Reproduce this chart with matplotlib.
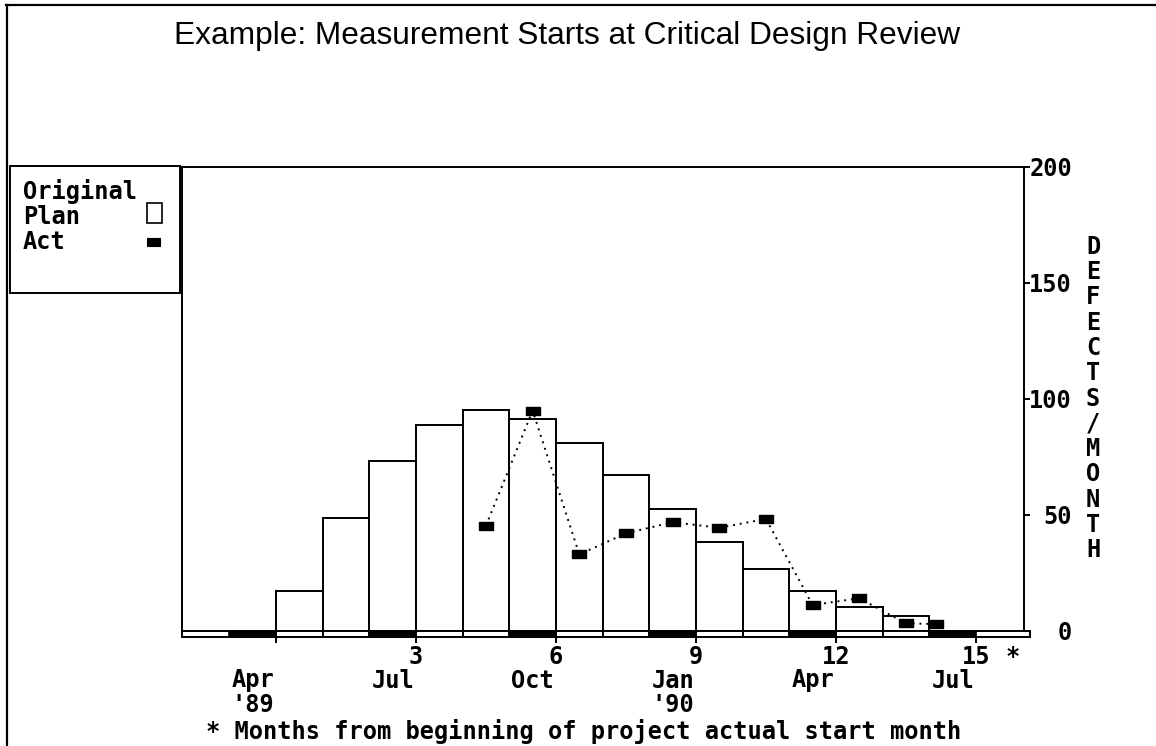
import matplotlib
matplotlib.use("Agg")
import matplotlib.pyplot as plt
from matplotlib.patches import Rectangle
from matplotlib.lines import Line2D
from matplotlib.transforms import blended_transform_factory

# ---------------- data ----------------
plan_months = [0, 1, 2, 3, 4, 5, 6, 7, 8, 9, 10, 11, 12, 13]
plan_values = [17.4, 48.6, 73.4, 88.8, 95.1, 91.2, 81.2, 67.1, 52.5, 38.2, 26.6, 17.4, 10.5, 6.6]
actual_months = [4.5, 5.5, 6.5, 7.5, 8.5, 9.5, 10.5, 11.5, 12.5, 13.5, 14.15]
actual_values = [45.4, 95.0, 33.0, 42.1, 46.9, 44.5, 48.3, 11.2, 14.1, 3.3, 3.0]
quarter_months = [-1, 2, 5, 8, 11, 14]
x_ticks = [0, 3, 6, 9, 12, 15]
x_tick_labels = ["", "3", "6", "9", "12", "15"]
month_label_pos = [-0.5, 2.5, 5.5, 8.5, 11.5, 14.5]
month_labels = ["Apr", "Jul", "Oct", "Jan", "Apr", "Jul"]
year_label_pos = [-0.5, 8.5]
year_labels = ["'89", "'90"]
y_ticks = [0, 50, 100, 150, 200]
y_tick_labels = ["0", "50", "100", "150", "200"]
title = "Example: Measurement Starts at Critical Design Review"
y_label = "DEFECTS/MONTH"
footnote = "* Months from beginning of project actual start month"
legend_lines = ["Original", "Plan", "Act"]

# ---------------- layout helpers ----------------
W, H = 1156, 746
def fx(px):
    return px / W
def fy(py):
    return 1 - py / H

MONO = "DejaVu Sans Mono"
MSIZE = 17.0
MW = "bold"
LW = 1.4

fig = plt.figure(figsize=(W / 100, H / 100), dpi=100)
fig.patch.set_facecolor("white")

ax = fig.add_axes([fx(182), fy(631), fx(1024) - fx(182), fy(167) - fy(631)])
ax.set_xlim(-2.014, 16.03)
ax.set_ylim(0, 200)
ax.set_facecolor("white")

for s in ["left", "top", "right"]:
    ax.spines[s].set_linewidth(LW)
ax.spines["bottom"].set_visible(False)
ax.spines["bottom"].set_position(("outward", 5.5 * 0.72))

# bars
ax.bar(plan_months, plan_values, width=1.0, align="edge", facecolor="white",
       edgecolor="black", linewidth=LW, zorder=2)

# baseline strip
px_per_unit = (631 - 167) / 200.0
strip_h = 6 / px_per_unit
x_left = -2.014
x_right = 16.16
ax.add_patch(Rectangle((x_left, -strip_h), x_right - x_left, strip_h, facecolor="white",
                       edgecolor="black", linewidth=LW, clip_on=False, zorder=3))
for q in quarter_months:
    ax.add_patch(Rectangle((q, -strip_h), 1, strip_h, facecolor="black", edgecolor="black",
                           linewidth=1.2, clip_on=False, zorder=4))
ax.vlines(plan_months + [plan_months[-1] + 1], -strip_h, 0, colors="black", linewidth=LW,
          clip_on=False, zorder=4)

# actual line
marker_path = [(-1, -0.6), (1, -0.6), (1, 0.6), (-1, 0.6), (-1, -0.6)]
ax.plot(actual_months, actual_values, color="black", linestyle=(0, (1, 2.5)), linewidth=LW,
        marker=marker_path, markersize=10, markerfacecolor="black", markeredgecolor="black",
        clip_on=False, zorder=5)

# x ticks
ax.set_xticks(x_ticks)
ax.set_xticklabels(x_tick_labels, fontfamily=MONO, fontsize=MSIZE, fontweight=MW)
ax.tick_params(axis="x", direction="out", length=6 * 0.72, width=LW, pad=2)

# y ticks on the right
ax.yaxis.tick_right()
ax.set_yticks(y_ticks)
ax.set_yticklabels(y_tick_labels, fontfamily=MONO, fontsize=MSIZE, fontweight=MW)
ax.tick_params(axis="y", direction="out", length=6 * 0.72, width=LW, pad=42 * 0.72)
for lbl in ax.get_yticklabels():
    lbl.set_horizontalalignment("right")

# month / year labels
bt = blended_transform_factory(ax.transData, fig.transFigure)
for m, t in zip(month_label_pos, month_labels):
    ax.text(m, fy(680.5), t, transform=bt, ha="center", va="center", fontfamily=MONO,
            fontsize=MSIZE, fontweight=MW, clip_on=False)
for m, t in zip(year_label_pos, year_labels):
    ax.text(m, fy(705.5), t, transform=bt, ha="center", va="center", fontfamily=MONO,
            fontsize=MSIZE, fontweight=MW, clip_on=False)
ax.text(15.79, fy(656.7), "*", transform=bt, ha="center", va="center", fontfamily=MONO,
        fontsize=MSIZE, fontweight=MW, clip_on=False)

# footnote
fig.text(fx(584), fy(731.7), footnote, ha="center", va="center", fontfamily=MONO,
         fontsize=MSIZE, fontweight=MW)

# vertical axis label (stacked letters)
for i, ch in enumerate(y_label):
    fig.text(fx(1093), fy(246.7 + i * 25.3), ch, ha="center", va="center", fontfamily=MONO,
             fontsize=MSIZE, fontweight=MW)

# title
fig.text(fx(567.5), fy(36), title, ha="center", va="center",
         fontfamily="Liberation Sans", fontsize=22.8)

# legend box
fig.add_artist(Rectangle((fx(9.5), fy(293)), fx(180) - fx(9.5), fy(166) - fy(293),
                         transform=fig.transFigure, fill=False, edgecolor="black", linewidth=LW))
for i, t in enumerate(legend_lines):
    fig.text(fx(22.7), fy(191.7 + 25 * i), t, ha="left", va="center", fontfamily=MONO,
             fontsize=MSIZE, fontweight=MW)
fig.add_artist(Rectangle((fx(147), fy(223)), fx(161.7) - fx(147), fy(203) - fy(223),
                         transform=fig.transFigure, facecolor="white", edgecolor="black",
                         linewidth=1.2))
fig.add_artist(Rectangle((fx(147), fy(246)), fx(160) - fx(147), fy(238) - fy(246),
                         transform=fig.transFigure, facecolor="black", edgecolor="black",
                         linewidth=0.8))

# image border (top and left)
fig.add_artist(Line2D([fx(6), 1], [fy(5.2), fy(5.2)], transform=fig.transFigure,
                      color="black", linewidth=1.6))
fig.add_artist(Line2D([fx(6.8), fx(6.8)], [fy(5.2), 0], transform=fig.transFigure,
                      color="black", linewidth=1.6))

fig.savefig("out.png", dpi=100, facecolor="white")
